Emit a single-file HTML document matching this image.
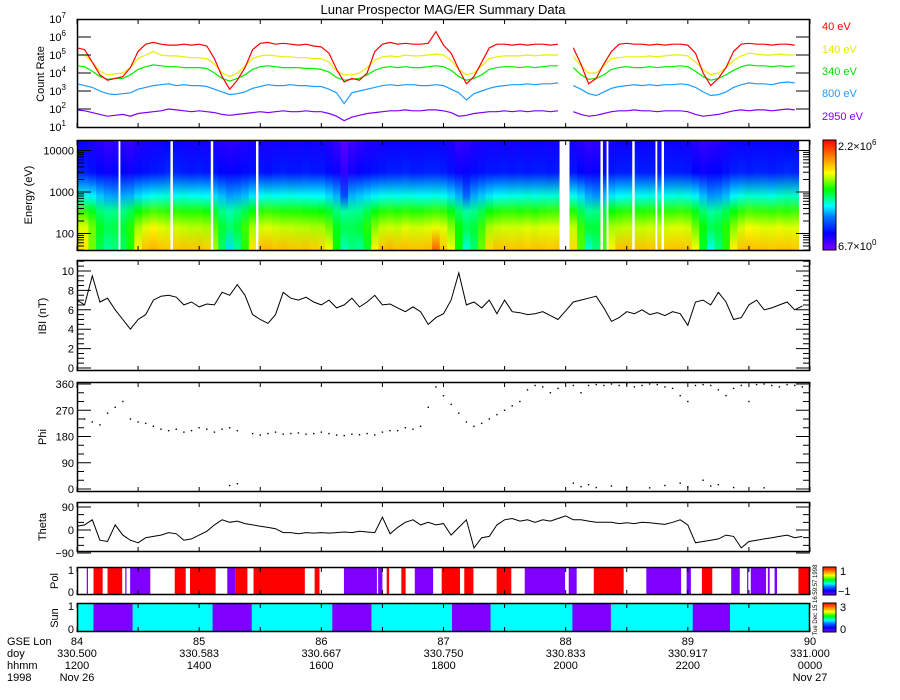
<!DOCTYPE html>
<html><head><meta charset="utf-8"><title>Lunar Prospector MAG/ER Summary Data</title>
<style>
html,body{margin:0;padding:0;background:#fff;}
svg{display:block;font-family:"Liberation Sans",sans-serif;}
</style></head>
<body>
<svg id="chart" width="900" height="700" viewBox="0 0 900 700" xmlns="http://www.w3.org/2000/svg">
<text x="443" y="14" font-size="13" text-anchor="middle">Lunar Prospector MAG/ER Summary Data</text>
<g font-size="11">
<text x="822" y="30" fill="#ff0000">40 eV</text>
<text x="822" y="53" fill="#e8e800">140 eV</text>
<text x="822" y="75" fill="#00e000">340 eV</text>
<text x="822" y="97" fill="#1e9bff">800 eV</text>
<text x="822" y="120" fill="#8000ff">2950 eV</text>
</g>
<g font-size="11" fill="#000">
<text transform="translate(44,74) rotate(-90)" text-anchor="middle">Count Rate</text>
<text transform="translate(32,195) rotate(-90)" text-anchor="middle">Energy (eV)</text>
<text transform="translate(46,316) rotate(-90)" text-anchor="middle">IBI (nT)</text>
<text transform="translate(46,437) rotate(-90)" text-anchor="middle">Phi</text>
<text transform="translate(46,527) rotate(-90)" text-anchor="middle">Theta</text>
<text transform="translate(58,581) rotate(-90)" text-anchor="middle">Pol</text>
<text transform="translate(58,618) rotate(-90)" text-anchor="middle">Sun</text>
</g>
<text transform="translate(817,600) rotate(-90)" font-size="6" text-anchor="middle">Tue Dec 15 16:59:57 1998</text>
<g font-size="11">
<text x="7" y="645">GSE Lon</text>
<text x="7" y="657">doy</text>
<text x="7" y="669">hhmm</text>
<text x="7" y="681">1998</text>
</g>
</svg>
<script>
// ---------- data ----------
const tStart = 12, tStep = 0.125;
const c40 = [5.4,5.3,4.6,3.9,3.6,3.7,3.8,4.3,5.2,5.6,5.7,5.6,5.55,5.55,5.6,5.55,5.6,5.5,4.8,3.8,3.1,3.6,4.3,5.3,5.65,5.7,5.6,5.65,5.6,5.55,5.6,5.5,5.45,5.1,4.2,3.5,3.7,3.6,4.0,5.2,5.6,5.7,5.6,5.65,5.6,5.6,5.65,6.3,5.55,5.1,4.2,3.4,3.8,4.6,5.4,5.6,5.6,5.55,5.6,5.55,5.6,5.6,5.55,5.6,null,5.4,4.5,3.4,3.7,4.5,5.2,5.6,5.65,5.6,5.6,5.55,5.6,5.55,5.6,5.6,5.55,5.1,4.0,3.3,3.7,4.3,5.2,5.6,5.65,5.6,5.6,5.55,5.6,5.6,5.55];
const c140 = [5.0,5.0,4.6,4.1,3.9,3.95,4.0,4.3,4.8,5.0,5.2,5.0,4.95,4.95,4.9,4.85,4.85,4.8,4.5,4.0,3.8,4.0,4.4,4.8,4.95,5.0,4.95,4.9,4.9,4.85,4.85,4.8,4.8,4.6,4.1,3.9,3.9,4.0,4.3,4.7,4.9,4.95,4.9,5.0,4.95,4.95,5.0,5.05,5.0,4.7,4.2,3.9,4.0,4.4,4.8,4.9,4.95,4.95,4.95,5.0,4.95,5.0,5.0,5.0,null,4.9,4.4,4.0,4.0,4.4,4.8,4.85,4.9,4.9,4.9,4.95,4.9,4.95,5.0,5.0,4.95,4.6,4.2,3.9,4.0,4.3,4.7,4.95,5.1,5.05,5.0,5.0,5.05,5.0,5.0];
const c340 = [4.4,4.35,4.1,3.8,3.65,3.7,3.7,3.9,4.2,4.35,4.45,4.4,4.35,4.35,4.3,4.3,4.3,4.25,4.0,3.7,3.55,3.7,3.9,4.2,4.35,4.4,4.35,4.3,4.3,4.3,4.25,4.25,4.2,4.05,3.75,3.6,3.65,3.7,3.9,4.15,4.3,4.35,4.3,4.35,4.3,4.3,4.35,4.4,4.35,4.15,3.8,3.6,3.7,3.9,4.2,4.3,4.35,4.35,4.3,4.35,4.3,4.35,4.4,4.4,null,4.3,3.9,3.65,3.7,3.9,4.2,4.3,4.35,4.3,4.3,4.35,4.3,4.35,4.35,4.4,4.35,4.1,3.8,3.6,3.7,3.9,4.15,4.35,4.45,4.4,4.4,4.35,4.4,4.35,4.4];
const c800 = [3.4,3.3,3.2,3.0,2.85,2.8,2.85,2.9,3.1,3.2,3.3,3.35,3.4,3.3,3.35,3.3,3.3,3.25,3.1,2.95,2.8,2.85,2.95,3.15,3.25,3.35,3.3,3.3,3.35,3.3,3.3,3.25,3.25,3.1,2.9,2.3,2.9,3.0,3.1,3.2,3.3,3.35,3.3,3.35,3.35,3.3,3.3,3.35,3.3,3.1,2.9,2.5,2.85,3.0,3.15,3.25,3.3,3.35,3.35,3.4,3.35,3.4,3.4,3.45,null,3.3,3.1,2.85,2.75,2.95,3.15,3.25,3.3,3.35,3.3,3.35,3.3,3.35,3.35,3.4,3.35,3.2,2.95,2.75,2.8,2.95,3.2,3.35,3.45,3.4,3.4,3.35,3.45,3.5,3.45];
const c2950 = [1.95,1.9,1.8,1.7,1.6,1.65,1.7,1.6,1.75,1.8,1.85,1.9,2.0,1.95,1.9,1.85,1.9,1.85,1.8,1.7,1.65,1.7,1.75,1.8,1.85,1.8,1.85,1.9,1.85,1.85,1.9,1.85,1.85,1.75,1.6,1.35,1.55,1.65,1.75,1.8,1.85,1.9,1.9,1.95,1.9,1.9,1.95,1.95,1.9,1.8,1.6,1.65,1.75,1.8,1.85,1.85,1.9,1.85,1.9,1.85,1.9,1.9,1.85,1.9,null,1.85,1.7,1.6,1.65,1.75,1.85,1.9,1.9,1.95,1.9,1.9,1.85,1.9,1.9,1.9,1.85,1.7,1.6,1.65,1.7,1.8,1.9,1.95,1.9,1.95,1.95,1.9,1.95,2.0,1.95];
const channelEnergies = [40,140,340,800,2950];
const bMag = [7.0,6.5,9.5,6.8,7.2,6.0,5.0,4.0,5.0,5.5,7.0,7.4,7.5,7.3,6.5,6.8,6.3,6.6,6.5,7.8,7.5,8.6,7.5,5.5,5.0,4.6,5.5,7.8,7.2,7.0,7.3,6.8,6.5,7.0,6.2,6.5,7.2,6.3,6.8,7.5,6.5,6.6,6.2,5.8,6.3,5.8,4.5,5.2,5.6,7.0,9.8,6.5,6.8,6.2,7.0,5.6,7.0,5.8,5.7,5.5,5.6,5.8,5.4,5.0,5.9,6.8,7.0,7.2,7.4,6.2,4.8,5.2,5.8,5.6,6.0,5.5,5.7,5.4,5.8,5.6,4.4,6.8,7.0,6.5,7.8,6.8,5.0,5.2,6.5,7.0,6.0,6.2,6.5,6.8,6.0,6.4];
const phi = [350,240,230,220,260,280,300,240,230,225,215,205,200,205,195,200,210,205,195,205,210,200,null,190,185,190,195,188,190,192,188,190,195,190,185,183,188,186,190,185,195,200,200,210,205,215,280,350,320,290,260,230,215,225,240,255,270,285,300,340,355,350,330,345,null,355,330,355,358,355,360,355,360,350,355,360,358,350,345,320,300,355,358,355,340,320,345,355,300,358,360,355,350,358,355,350];
const phiLow = [null,null,null,null,null,null,null,null,null,null,null,null,null,null,null,null,null,null,null,null,12,18,null,null,null,null,null,null,null,null,null,null,null,null,null,null,null,null,null,null,null,null,null,null,null,null,null,null,null,null,null,null,null,null,null,null,null,null,null,null,null,null,null,null,null,20,8,15,5,null,10,null,6,null,null,4,null,12,null,20,8,null,30,10,15,null,5,null,null,null,4,null,null,null,null,null];
const theta = [15,20,40,-40,-45,20,-20,-40,-50,-30,-25,-20,-10,-15,-40,-35,-20,-5,20,40,30,35,25,20,15,10,5,-10,-10,-15,-10,-12,-10,-12,-10,-8,-10,-5,-8,-10,50,-15,10,30,40,20,30,20,25,-20,10,40,-70,-30,-25,20,40,45,35,40,30,40,35,45,55,40,40,35,30,30,30,25,28,25,30,28,25,22,30,40,20,-50,-45,-40,-35,-20,-25,-70,-45,-40,-35,-30,-25,-20,-30,-25];
const polStart = [12.16,12.27,12.50,12.79,12.87,13.60,13.85,14.46,14.60,14.89,15.89,16.37,16.93,17.07,17.31,17.53,17.97,18.34,18.87,19.33,20.05,20.46,21.32,21.98,22.23,22.71,22.97,23.03,23.31,23.42,23.81];
const polEnd   = [12.18,12.42,12.74,12.81,13.20,13.78,14.27,14.60,14.79,15.73,15.97,16.91,17.00,17.11,17.38,17.83,18.27,18.49,19.11,19.99,20.18,20.95,21.89,22.05,22.40,22.85,22.99,23.28,23.34,23.46,24.00];
const polValue = [-1,1,1,-1,-1,1,1,-1,1,1,1,-1,-1,1,1,-1,1,1,1,-1,-1,1,-1,-1,1,-1,-1,-1,-1,-1,1];
const sunStart = [12.27,14.22,16.18,18.14,20.11,22.08];
const sunEnd   = [12.91,14.86,16.82,18.77,20.74,22.69];
const specGapStart = [12.68,13.53,14.19,14.93,19.90,20.57,20.67,21.09,21.47,21.57];
const specGapEnd   = [12.71,13.57,14.23,14.97,20.03,20.61,20.70,21.13,21.50,21.61];
const xTickLon = ['84','85','86','87','88','89','90'];
const xTickDoy = ['330.500','330.583','330.667','330.750','330.833','330.917','331.000'];
const xTickHhmm = ['1200','1400','1600','1800','2000','2200','0000'];
const xTickDate = ['Nov 26','','','','','','Nov 27'];

// ---------- helpers ----------
const NS = 'http://www.w3.org/2000/svg';
const svg = document.getElementById('chart');
function mk(tag, attrs, parent) {
  const e = document.createElementNS(NS, tag);
  for (const k in attrs) e.setAttribute(k, attrs[k]);
  (parent || svg).appendChild(e);
  return e;
}
const PX0 = 77, PX1 = 810;
const X = h => PX0 + (h - 12) * (PX1 - PX0) / 12;
const tOf = i => tStart + i * tStep;
const Ytop = L => 127 - (L - 1) * 18;
const Yspec = E => 192 - (Math.log10(E) - 3) * 41.5;
const Yb = v => 368 - v * 9.7;
const Yphi = v => 489 - v * 105 / 360;
const Ytheta = v => 530 - v * 23 / 90;

const cmapStops = [[0,[128,0,255]],[0.15,[0,0,255]],[0.3,[0,120,255]],[0.4,[0,255,255]],[0.55,[0,255,0]],[0.7,[255,255,0]],[0.85,[255,128,0]],[1,[255,0,0]]];
function cmap(v) {
  v = Math.max(0, Math.min(1, v));
  for (let k = 1; k < cmapStops.length; k++) {
    if (v <= cmapStops[k][0]) {
      const a = cmapStops[k-1], b = cmapStops[k], f = (v - a[0]) / (b[0] - a[0]);
      const c = a[1].map((x, j) => Math.round(x + (b[1][j] - x) * f));
      return 'rgb(' + c.join(',') + ')';
    }
  }
  return 'rgb(255,0,0)';
}

const defs = mk('defs', {});
const gPlots = mk('g', {});



// ---------- spectrogram ----------
const channels = [c40, c140, c340, c800, c2950];
const specG = mk('g', {}, gPlots);


for (let i = 0; i < c40.length; i++) {
  if (c40[i] === null) continue;
  const grad = mk('linearGradient', {id: 'sg' + i, x1: 0, y1: 0, x2: 0, y2: 1}, defs);
  const vals = channels.map(ch => 0.12 + (ch[i] - 1.5) * 0.16);
  mk('stop', {offset: 0, 'stop-color': cmap(vals[4] - 0.05)}, grad);
  for (let c = channelEnergies.length - 1; c >= 0; c--) {
    const off = (Yspec(channelEnergies[c]) - 140) / 111;
    mk('stop', {offset: Math.min(1, off), 'stop-color': cmap(vals[c])}, grad);
  }
  const x0 = Math.max(78, X(tOf(i) - tStep / 2)), x1 = X(tOf(i) + tStep / 2);
  const r = mk('rect', {x: x0, y: 140, width: x1 - x0 + 0.6, height: 111, fill: 'url(#sg' + i + ')'}, specG);
  
  
}
for (let k = 0; k < specGapStart.length; k++) {
  const r = mk('rect', {x: X(specGapStart[k]), y: 140, width: X(specGapEnd[k]) - X(specGapStart[k]), height: 111, fill: '#fff'}, specG);
  
  
}

// ---------- count rate lines ----------
const lineColors = ['#ff0000', '#e8f000', '#00ee00', '#1e9bff', '#8000ff'];
const lineNames = ['line-40ev', 'line-140ev', 'line-340ev', 'line-800ev', 'line-2950ev'];
function linePath(arr, yf) {
  let d = '', pen = false;
  arr.forEach((v, i) => {
    if (v === null) { pen = false; return; }
    d += (pen ? 'L' : 'M') + X(tOf(i)).toFixed(1) + ' ' + yf(v).toFixed(1);
    pen = true;
  });
  return d;
}
for (let c = channels.length - 1; c >= 0; c--) {
  const p = mk('path', {d: linePath(channels[c], Ytop), fill: 'none', stroke: lineColors[c], 'stroke-width': 1.2}, gPlots);
  
  
}

// |B|
const pb = mk('path', {d: linePath(bMag, Yb), fill: 'none', stroke: '#000', 'stroke-width': 1}, gPlots);


// Phi dots
const phiG = mk('g', {fill: '#000'}, gPlots);


[phi, phiLow].forEach(arr => arr.forEach((v, i) => {
  if (v === null) return;
  const r = mk('rect', {x: X(tOf(i)) - 0.7, y: Yphi(v) - 0.7, width: 1.4, height: 1.4}, phiG);
  
  
}));
// Theta
const pt = mk('path', {d: linePath(theta, Ytheta), fill: 'none', stroke: '#000', 'stroke-width': 1}, gPlots);



// Pol
for (let k = 0; k < polStart.length; k++) {
  const r = mk('rect', {x: X(polStart[k]), y: 567, width: Math.max(1, X(polEnd[k]) - X(polStart[k])), height: 28, fill: polValue[k] > 0 ? '#ff0000' : '#7f00ff'}, gPlots);
  
  
}
// Sun
const sunBg = mk('rect', {x: PX0, y: 603, width: PX1 - PX0, height: 29, fill: '#00ffff'}, gPlots);


for (let k = 0; k < sunStart.length; k++) {
  const r = mk('rect', {x: X(sunStart[k]), y: 603, width: X(sunEnd[k]) - X(sunStart[k]), height: 29, fill: '#7f00ff'}, gPlots);
  
  
}

// ---------- frames & ticks ----------
const panels = [[19,128,'count-rate-panel'],[140,251,'spectrogram-panel'],[260,371,'b-panel'],[382,492,'phi-panel'],[502,552,'theta-panel'],[567,595,'pol-panel'],[603,632,'sun-panel']];
const axG = mk('g', {stroke: '#000', fill: 'none', 'stroke-width': 1}, svg);


panels.forEach(p => {
  const r = mk('rect', {x: PX0 + 0.5, y: p[0] + 0.5, width: PX1 - PX0 - 1, height: p[1] - p[0] - 1, 'stroke-width': 1.5}, axG);
  
  
  for (let h = 12; h <= 24; h++) {
    const x = X(h);
    mk('path', {d: 'M' + x + ' ' + p[1] + 'v-5M' + x + ' ' + p[0] + 'v5'}, axG);
  }
});
function yTick(y, len) { mk('path', {d: 'M' + PX0 + ' ' + y + 'h' + len + 'M' + PX1 + ' ' + y + 'h-' + len}, axG); }
function yLabel(y, txt, x) {
  const t = mk('text', {x: x || 74, y: y + 4, 'font-size': 11, 'text-anchor': 'end', fill: '#000', stroke: 'none'}, svg);
  t.textContent = txt;
  
  
  return t;
}
// count rate: decades
for (let L = 1; L <= 7; L++) {
  const y = Ytop(L);
  if (L > 1 && L < 7) yTick(y, 14);
  const t = yLabel(y, '10', 66);
  const s = document.createElementNS(NS, 'tspan');
  s.setAttribute('dy', '-5'); s.setAttribute('font-size', '8'); s.textContent = String(L);
  t.appendChild(s);
}
// spectrogram log ticks
for (let dec = 1; dec <= 4; dec++) for (let m = 1; m <= 9; m++) {
  const E = m * Math.pow(10, dec), y = Yspec(E);
  if (y < 140 || y > 251) continue;
  yTick(y, m === 1 ? 14 : 7);
}
[100,1000,10000].forEach(E => yLabel(Yspec(E), String(E)));
// |B|
for (let v = 0; v <= 11; v += 0.5) { const y = Yb(v); if (y < 260) continue; yTick(y, v % 2 === 0 ? 14 : 7); }
for (let v = 0; v <= 10; v += 2) yLabel(Yb(v), String(v));
// Phi
for (let v = 0; v <= 360; v += 30) yTick(Yphi(v), v % 90 === 0 ? 14 : 7);
for (let v = 0; v <= 360; v += 90) yLabel(Yphi(v), String(v));
// Theta
for (let v = -90; v <= 90; v += 30) yTick(Ytheta(v), v % 90 === 0 ? 14 : 7);
[90,0,-90].forEach(v => yLabel(Ytheta(v), v < 0 ? '\u221290' : String(v)));
// Pol / Sun
yLabel(570, '1'); yLabel(592, '0'); yLabel(606, '1'); yLabel(629, '0');

// x labels
const rows = [xTickLon, xTickDoy, xTickHhmm, xTickDate];
rows.forEach((row, r) => row.forEach((s, k) => {
  if (!s) return;
  const t = mk('text', {x: X(12 + 2 * k), y: 645 + r * 12, 'font-size': 11, 'text-anchor': 'middle', fill: '#000'}, svg);
  t.textContent = s;
  
  
}));

// ---------- colorbars ----------
function colorbar(y0, y1, id, name) {
  const g = mk('linearGradient', {id: id, x1: 0, y1: 1, x2: 0, y2: 0}, defs);
  for (let k = 0; k <= 20; k++) mk('stop', {offset: k / 20, 'stop-color': cmap(k / 20)}, g);
  const r = mk('rect', {x: 823, y: y0, width: 13, height: y1 - y0, fill: 'url(#' + id + ')', stroke: '#000', 'stroke-width': 1}, svg);
  
  
}
colorbar(140, 250, 'cb1', 'spectrogram-colorbar');
colorbar(567, 595, 'cb2', 'pol-colorbar');
colorbar(603, 632, 'cb3', 'sun-colorbar');
function cbLabel(x, y, txt, sup) {
  const t = mk('text', {x: x, y: y, 'font-size': 11, fill: '#000'}, svg);
  t.textContent = txt;
  if (sup) { const s = document.createElementNS(NS, 'tspan'); s.setAttribute('dy', '-5'); s.setAttribute('font-size', '8'); s.textContent = sup; t.appendChild(s); }
  
  
}
cbLabel(838, 150, '2.2\u00d710', '6');
cbLabel(838, 250, '6.7\u00d710', '0');
cbLabel(840, 575, '1');
cbLabel(838, 595, '\u22121');
cbLabel(840, 611, '3');
cbLabel(840, 633, '0');
</script>
</body></html>
